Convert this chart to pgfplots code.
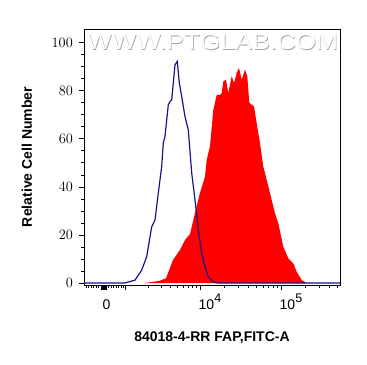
\documentclass[border=0pt]{standalone}
\usepackage{pgfplots}
\pgfplotsset{compat=1.18}
\usepackage{graphicx}
\usepackage{fontspec}
\setmainfont{Liberation Sans}
\definecolor{ctrlblue}{RGB}{20,20,140}
\definecolor{fapred}{RGB}{255,0,0}
\newcommand{\dec}[1]{10\raisebox{6.5bp}{\fontsize{12.5bp}{12.5bp}\selectfont #1}}
\begin{document}
\begin{tikzpicture}
\useasboundingbox (0,0) rectangle (367bp,365bp);
\begin{axis}[
  at={(84bp,80bp)}, anchor=south west,
  width=256bp, height=256bp, scale only axis,
  xmin=0, xmax=256, ymin=-0.8, ymax=105.7,
  axis line style={line width=0.9bp},
  tick align=outside, tick pos=left,
  xtick={20,116,197},
  xticklabels={\vphantom{\dec{4}}0,\dec{4},\dec{5}},
  minor xtick={2,4.5,7,9.5,12,14.5,24.5,27,29.5,32,34.5,37,39.5,64.1,77.1,86.4,93.6,99.5,104.5,108.8,112.6,140.4,154.6,164.8,172.6,179,184.5,189.2,193.3,221.4,235.6,245.8,253.6},
  extra x ticks={17,17.5,18,18.5,19,19.5,20,20.5,21,21.5,22,41.7},
  extra x tick labels={},
  extra x tick style={major tick length=4.5bp},
  ytick={0,20,40,60,80,100},
  minor y tick num=3,
  major tick length=5bp, minor tick length=2.5bp,
  every tick/.style={black, line width=0.8bp},
  ticklabel style={font=\fontsize{14bp}{14bp}\selectfont},
  xticklabel style={anchor=north west, inner sep=0pt, xshift=-1.5bp, yshift=-4bp},
  yticklabel style={anchor=east, inner sep=0pt, xshift=-6bp},
  xlabel={84018-4-RR FAP,FITC-A},
  ylabel={Relative Cell Number},
  label style={font=\bfseries\fontsize{14bp}{14bp}\selectfont},
  xlabel style={at={(axis description cs:0.5,-0.205)}, anchor=center},
  ylabel style={at={(axis description cs:-0.2227,0.5)}, anchor=center},
]
% FAP stained sample (filled red)
\addplot[draw=none, fill=fapred] coordinates {
(60,0) (69,0.5) (76,1) (82,2) (89,9.6) (96,13.8) (101,17.9) (106,20.4) (111,29.2)
(116,37.5) (121,44.3) (122.7,51.2) (126,57) (129.3,72) (132.7,78.3) (136,78.3)
(137.7,79) (139.3,83.9) (142,84.6) (144.3,79) (147.7,86) (150,83.2) (152.7,87.4)
(155,89.5) (157.7,84.6) (161,88.8) (163.3,86) (165.3,75) (167.7,74.2) (170,73.5)
(172.7,66.5) (176,58.2) (179.3,48.5) (182.7,42.9) (186,37.4) (191,29) (194.3,24.9)
(199.3,15.1) (204.3,10.3) (209.3,8.2) (212.7,4.7) (217.7,1.25) (222.7,0)
} \closedcycle;
% isotype control (blue line)
\addplot[color=ctrlblue, line width=1.2bp, mark=none] coordinates {
(0,0) (40,0) (43,0.3) (51,1.2) (57.7,5.4) (62.7,11.0) (67.7,23.4) (71,26.2) (74.3,37.5)
(77.7,48.5) (79.3,58.3) (81,61) (84.3,74.2) (86,75.5) (87.7,76.2) (91,90.8) (93.3,92.2)
(95.3,83.3) (97.7,77.6) (101,69.3) (104.3,63.7) (107.7,45.8) (111,34.6) (114.3,22.1)
(117.7,12.5) (121,6.8) (124.3,2.6) (129.3,0.3) (135,0) (256,0)
};
\end{axis}
\node[anchor=base, inner sep=0pt, text=black!35] at (213.2bp,314.3bp) {\resizebox{251bp}{15.5bp}{WWW.PTGLAB.COM}};
\node[anchor=base, inner sep=0pt, text=white] at (212.5bp,315bp) {\resizebox{251bp}{15.5bp}{WWW.PTGLAB.COM}};
\end{tikzpicture}
\end{document}
